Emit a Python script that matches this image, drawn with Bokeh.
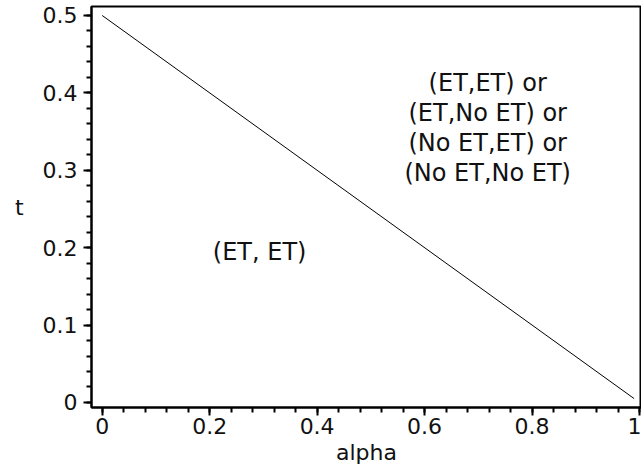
import numpy as np
from bokeh.plotting import figure
from bokeh.models import FixedTicker, Range1d
from bokeh.core.properties import value
from bokeh.embed import file_html
from bokeh.resources import INLINE

# data
alpha = [0.0, 0.99]
t = [0.5, 0.005]

x_ticks = [0.0, 0.2, 0.4, 0.6, 0.8, 1.0]
x_tick_labels = ["0", "0.2", "0.4", "0.6", "0.8", "1"]
y_ticks = [0.0, 0.1, 0.2, 0.3, 0.4, 0.5]
y_tick_labels = ["0", "0.1", "0.2", "0.3", "0.4", "0.5"]

region_labels = ["(ET, ET)", "(ET,ET) or\n(ET,No ET) or\n(No ET,ET) or\n(No ET,No ET)"]
region_x = [0.293, 0.7175]
region_y = [0.194, 0.355]

FONT = "DejaVu Sans"

p = figure(width=641, height=471, output_backend="svg", toolbar_location=None,
           x_range=Range1d(-0.0199, 1.0037), y_range=Range1d(-0.0065, 0.5116),
           min_border_left=91, min_border_right=0, min_border_top=6, min_border_bottom=64)
p.background_fill_color = "white"
p.border_fill_color = "white"
p.outline_line_color = "black"
p.outline_line_width = 2
p.grid.visible = False

p.line(alpha, t, line_color="black", line_width=1)

p.text(x=region_x, y=region_y, text=region_labels, text_font=value(FONT),
       text_font_size="24px", text_align="center", text_baseline="middle",
       text_color="#111111", text_line_height=1.07)

x_minor = list(np.round(np.arange(0, 1.0001, 0.04), 4))
y_minor = list(np.round(np.arange(0, 0.5001, 0.02), 4))
p.xaxis.ticker = FixedTicker(ticks=x_ticks, minor_ticks=x_minor)
p.yaxis.ticker = FixedTicker(ticks=y_ticks, minor_ticks=y_minor)
p.xaxis.major_label_overrides = {k: v for k, v in zip(x_ticks, x_tick_labels)}
p.yaxis.major_label_overrides = {k: v for k, v in zip(y_ticks, y_tick_labels)}

for ax in (p.xaxis, p.yaxis):
    ax.axis_line_color = "black"
    ax.axis_line_width = 2
    ax.major_tick_line_color = "black"
    ax.minor_tick_line_color = "black"
    ax.major_tick_line_width = 2
    ax.minor_tick_line_width = 2
    ax.major_tick_out = 8
    ax.major_tick_in = 0
    ax.minor_tick_out = 5
    ax.minor_tick_in = 0
    ax.major_label_text_font = FONT
    ax.major_label_text_font_size = "22px"
    ax.major_label_text_color = "#111111"
    ax.axis_label_text_font = FONT
    ax.axis_label_text_font_size = "22px"
    ax.axis_label_text_font_style = "normal"
    ax.axis_label_text_color = "#111111"

p.xaxis.axis_label = "alpha"
p.yaxis.axis_label = "t"
p.yaxis.axis_label_orientation = "horizontal"
p.xaxis.major_label_standoff = 2
p.yaxis.major_label_standoff = 6
p.xaxis.axis_label_standoff = 3
p.yaxis.axis_label_standoff = 16

open("out.html", "w").write(file_html(p, INLINE))
